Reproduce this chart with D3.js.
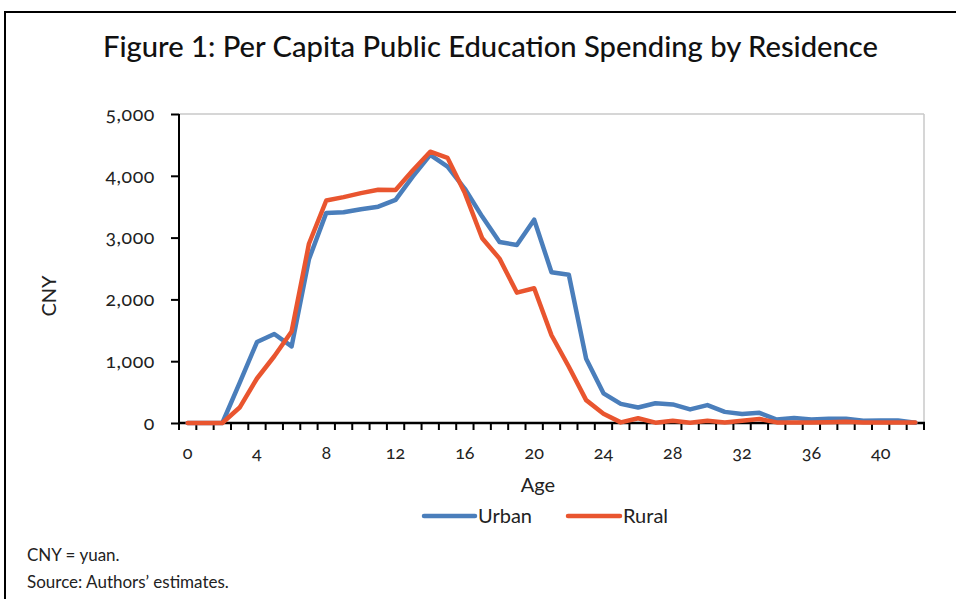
<!DOCTYPE html>
<html><head><meta charset="utf-8">
<script src="https://cdn.jsdelivr.net/npm/d3@7"></script>
<style>
html,body{margin:0;padding:0;background:#fff;}
svg{display:block;font-family:Lato,"Open Sans",sans-serif;}
.num{font-variant-numeric:oldstyle-nums;font-feature-settings:"onum" 1;}
</style></head>
<body>
<svg id="c" width="956" height="599"></svg>
<script>
const ages = d3.range(0, 43);
const urban = [0,0,0,650,1310,1440,1240,2650,3400,3410,3460,3500,3610,3990,4340,4150,3790,3340,2930,2880,3290,2440,2400,1040,480,310,250,320,300,220,290,180,145,165,55,80,55,68,68,35,42,42,5];
const rural = [0,0,0,250,720,1080,1480,2900,3600,3655,3720,3775,3770,4090,4390,4290,3720,2990,2660,2110,2180,1420,910,370,150,10,76,5,35,5,38,8,35,65,10,10,10,12,20,10,10,10,10];
const yTicks = [0,1000,2000,3000,4000,5000];
const xTickLabels = [0,4,8,12,16,20,24,28,32,36,40];
const seriesNames = ["Urban","Rural"];
const colors = ["#4A7EBB","#E9552F"];

const svg = d3.select("#c");
// outer frame
svg.append("rect").attr("x",5).attr("y",12).attr("width",1000).attr("height",700)
  .attr("fill","none").attr("stroke","#000").attr("stroke-width",2);

svg.append("text").attr("x",103).attr("y",57)
  .attr("font-size",28).attr("fill","#111").attr("font-weight",500)
  .attr("textLength",775).attr("lengthAdjust","spacingAndGlyphs")
  .text("Figure 1: Per Capita Public Education Spending by Residence");

const L=179, R=924, T=114, B=423;
const x = d3.scaleBand().domain(ages).range([L,R]).padding(0);
const y = d3.scaleLinear().domain([0,5000]).range([B,T]);

// plot border (top/right gray)
svg.append("line").attr("x1",L).attr("x2",R).attr("y1",T).attr("y2",T).attr("stroke","#c8c8c8").attr("stroke-width",1.5);
svg.append("line").attr("x1",R).attr("x2",R).attr("y1",T).attr("y2",B).attr("stroke","#c8c8c8").attr("stroke-width",1.5);

// y axis
const ya = svg.append("g").attr("transform",`translate(${L},0)`)
  .call(d3.axisLeft(y).tickValues(yTicks).tickSize(8).tickPadding(16).tickFormat(d3.format(",")));
ya.select(".domain").attr("stroke","#000").attr("stroke-width",2).attr("d",`M0,${T}V${B+7}`);
ya.selectAll(".tick line").attr("stroke","#000").attr("stroke-width",2);
ya.selectAll(".tick text").attr("font-size",19.5).attr("fill","#222").attr("class","num")
  .attr("font-family","Lato,sans-serif").attr("letter-spacing",0.6);

// x axis labels
const xa = svg.append("g").attr("transform",`translate(0,${B})`)
  .call(d3.axisBottom(x).tickValues(xTickLabels).tickSize(0).tickPadding(23));
xa.select(".domain").remove();
xa.selectAll(".tick text").attr("font-size",18).attr("fill","#222").attr("class","num").attr("font-family","Lato,sans-serif");
// x tick marks between categories
const edges = ages.map(a=>x(a)).concat([R]);
svg.append("g").selectAll("line").data(edges).join("line")
  .attr("x1",d=>d).attr("x2",d=>d).attr("y1",B).attr("y2",B+7)
  .attr("stroke","#000").attr("stroke-width",2);
svg.append("line").attr("x1",L).attr("x2",R+1).attr("y1",B).attr("y2",B).attr("stroke","#000").attr("stroke-width",2.5);

// lines
const line = d3.line().x((d,i)=>x(ages[i])+x.bandwidth()/2).y(d=>y(d)).curve(d3.curveLinear);
[urban,rural].forEach((s,k)=>{
  svg.append("path").datum(s).attr("d",line).attr("fill","none")
    .attr("stroke",colors[k]).attr("stroke-width",4.5).attr("stroke-linejoin","round").attr("stroke-linecap","round");
});

// axis titles
svg.append("text").attr("x",538).attr("y",492).attr("text-anchor","middle").attr("font-size",20).attr("fill","#222").text("Age");
svg.append("text").attr("transform","translate(56,296) rotate(-90)").attr("text-anchor","middle").attr("font-size",20).attr("fill","#222").text("CNY");

// legend
const lg = [{x1:424,x2:475,tx:478},{x1:568,x2:620,tx:623}];
lg.forEach((p,k)=>{
  svg.append("line").attr("x1",p.x1).attr("x2",p.x2).attr("y1",516).attr("y2",516)
    .attr("stroke",colors[k]).attr("stroke-width",4.5).attr("stroke-linecap","round");
  svg.append("text").attr("x",p.tx).attr("y",523).attr("font-size",20).attr("fill","#222").text(seriesNames[k]);
});

// notes
svg.append("text").attr("x",27).attr("y",561).attr("font-size",17).attr("fill","#222").text("CNY = yuan.");
svg.append("text").attr("x",27).attr("y",588).attr("font-size",17).attr("fill","#222").text("Source: Authors’ estimates.");
</script>
</body></html>
